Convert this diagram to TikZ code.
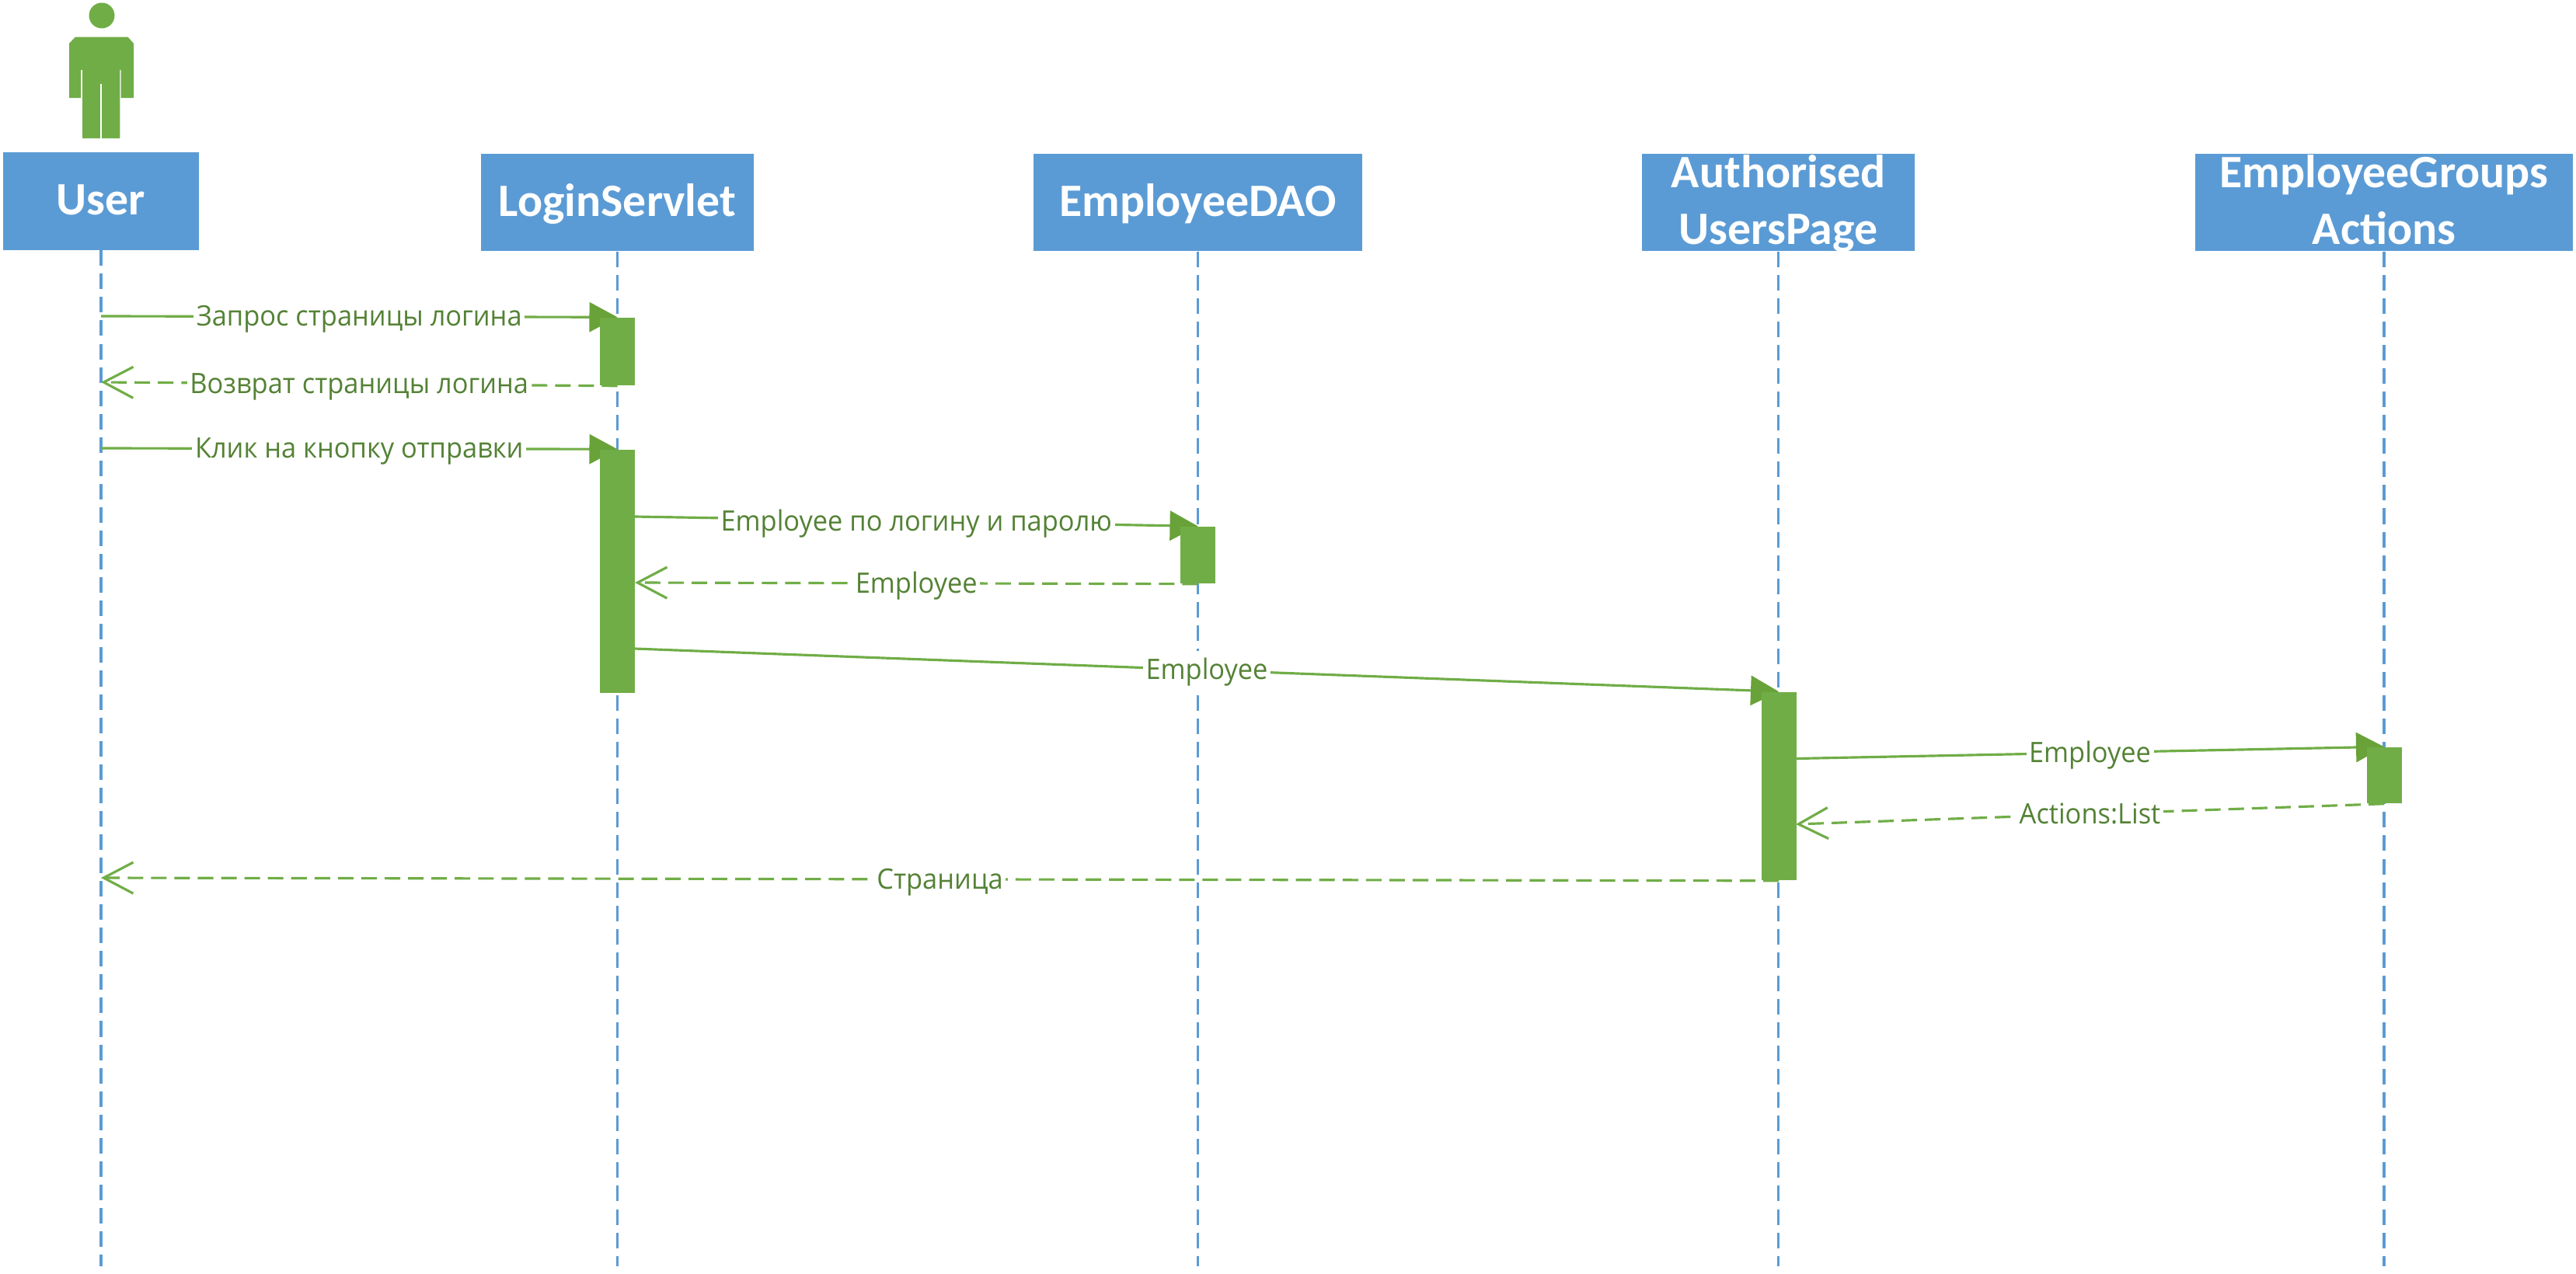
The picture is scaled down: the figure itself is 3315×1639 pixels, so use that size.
\documentclass[tikz,border=0pt]{standalone}
\usepackage{fontspec}
\setmainfont{Open Sans}
\newfontfamily\headfont{Carlito}
\newfontfamily\msgfont[FakeStretch=0.95]{Open Sans}
\usetikzlibrary{arrows.meta}
\usetikzlibrary{backgrounds}
\definecolor{boxblue}{HTML}{5B9BD5}
\definecolor{actgreen}{HTML}{70AD47}
\definecolor{tipgreen}{HTML}{68A238}
\definecolor{textgreen}{HTML}{548235}
\newcommand{\twolines}[2] % head text that may stick out of its box
{\smash{\begin{tabular}{@{}c@{}}#1\\#2\end{tabular}}}
\tikzset{
	headbox/.style={fill=boxblue, text=white, inner sep=0pt, minimum height=1.25cm,
		text height=12pt, text depth=1.8pt,
		font=\headfont\fontsize{17pt}{21pt}\selectfont\bfseries},
	activebox/.style={fill=actgreen, inner sep=0pt, minimum width=0.45cm},
	lifeline/.style={draw=boxblue, line width=0.9pt, dash pattern=on 5.7pt off 2.85pt},
	msglabel/.style={fill=white, text=textgreen, inner sep=1pt, text height=9.4pt, text depth=2.5pt,
		font=\msgfont\fontsize{10.3pt}{12pt}\selectfont},
	callmsg/.style={draw=actgreen, line width=0.9pt, -{Triangle[length=0.36cm,width=0.38cm,fill=tipgreen,color=tipgreen]}},
	replymsg/.style={draw=actgreen, line width=0.9pt, dash pattern=on 5.7pt off 2.85pt, -{Straight Barb[length=0.38cm,width=0.4cm,color=actgreen]}}
}
\begin{document}
\begin{tikzpicture}[x=0.01cm, y=-0.01cm]
	% 3315 x 1639 px, one unit is one pixel
	\useasboundingbox (0,0) rectangle (3315,1639);
	% actor
	\fill[actgreen] (131,20) circle (16.5);
	\fill[actgreen] (97,47.5) -- (164.5,47.5) -- (172,56) -- (172,126) -- (155.6,126) -- (155.6,90) -- (154.3,90)
		-- (154.3,178) -- (106,178) -- (106,90) -- (104,90) -- (104,126) -- (89,126) -- (89,56) -- cycle;
	\draw[white, line width=0.45pt] (130,108) -- (130,178);
	% heads
	\node[headbox, minimum width=2.52cm] (userbox) at (130,259) {User};
	\node[headbox, minimum width=3.51cm] (loginbox) at (794.5,260.5) {LoginServlet};
	\node[headbox, minimum width=4.22cm] (daobox) at (1541.5,260.5) {EmployeeDAO};
	\node[headbox, minimum width=3.51cm] (pagebox) at (2288.5,260.5) {\twolines{Authorised}{UsersPage}};
	\node[headbox, minimum width=4.86cm] (groupsbox) at (3068,260.5) {\twolines{EmployeeGroups}{Actions}};
	% activations
	\node[activebox, minimum height=0.87cm] (login1) at (794.5,452.5) {};
	\node[activebox, minimum height=3.13cm] (login2) at (794.5,735.5) {};
	\node[activebox, minimum height=0.73cm] (dao1) at (1541.5,714.5) {};
	\node[activebox, minimum height=2.42cm] (page1) at (2289,1012) {};
	\node[activebox, minimum height=0.72cm] (groups1) at (3068,998) {};
	% free ends
	\coordinate (userend) at (130,1630);
	\coordinate (loginend) at (794.5,1630);
	\coordinate (daoend) at (1541.5,1630);
	\coordinate (pageend) at (2288.5,1630);
	\coordinate (groupsend) at (3068,1630);
	\coordinate (req1) at (130,407);
	\coordinate (ret1) at (130,492);
	\coordinate (req2) at (130,577);
	\coordinate (req3) at (817,665);
	\coordinate (ret3) at (817,750);
	\coordinate (req4) at (817,835);
	\coordinate (req5) at (2311,976.5);
	\coordinate (ret5) at (2311,1061);
	\coordinate (ret6) at (130,1130);
	\begin{scope}[on background layer]
		% lifelines
		\draw[lifeline] (userbox.south) -- (userend);
		\draw[lifeline] (loginbox.south) -- (loginend);
		\draw[lifeline] (daobox.south) -- (daoend);
		\draw[lifeline] (pagebox.south) -- (pageend);
		\draw[lifeline] (groupsbox.south) -- (groupsend);
		% messages
		\draw[callmsg] (req1) -- node[msglabel] {Запрос страницы логина} (login1.north);
		\draw[replymsg] (login1.south) -- node[msglabel] {Возврат страницы логина} (ret1);
		\draw[callmsg] (req2) -- node[msglabel] {Клик на кнопку отправки} (login2.north);
		\draw[callmsg] (req3) -- node[msglabel] {Employee по логину и паролю} (dao1.north);
		\draw[replymsg] (dao1.south) -- node[msglabel] {Employee} (ret3);
		\draw[callmsg] (req4) -- node[msglabel] {Employee} (page1.north);
		\draw[callmsg] (req5) -- node[msglabel] {Employee} (groups1.north);
		\draw[replymsg] (groups1.south) -- node[msglabel] {Actions:List} (ret5);
		\draw[replymsg] (page1.south) -- node[msglabel] {Страница} (ret6);
	\end{scope}
\end{tikzpicture}
\end{document}
